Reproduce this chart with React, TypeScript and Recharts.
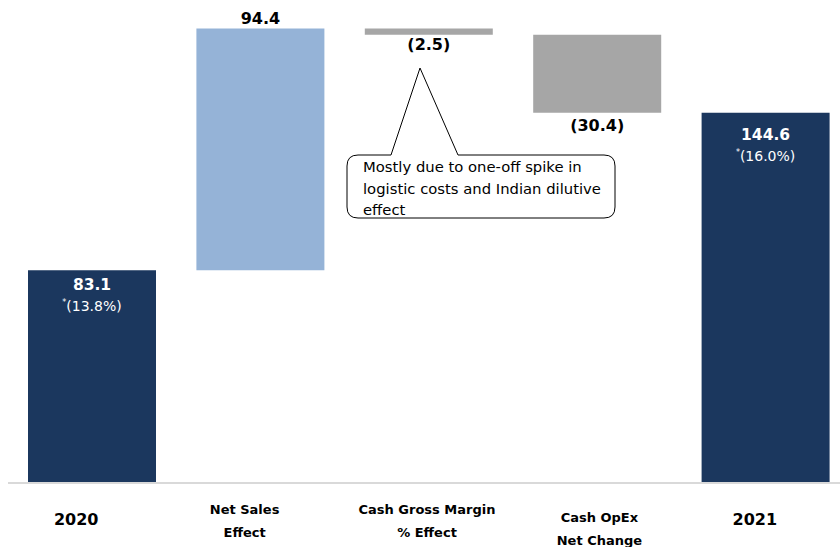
import { Bar, BarChart, Cell, Customized, LabelList, XAxis, YAxis } from "recharts";

const CATEGORIES = ["2020", "Net Sales Effect", "Cash Gross Margin % Effect", "Cash OpEx Net Change", "2021"];
const TICK_LINES = [["2020"], ["Net Sales", "Effect"], ["Cash Gross Margin", "% Effect"], ["Cash OpEx", "Net Change"], ["2021"]];
const VALUES = [83.1, 94.4, -2.5, -30.4, 144.6];
const KINDS = ["total", "delta", "delta", "delta", "total"];
const VALUE_LABELS = ["83.1", "94.4", "(2.5)", "(30.4)", "144.6"];
const MARGIN_LABELS = ["13.8%", "", "", "", "16.0%"];
const NOTE_LINES = ["Mostly due to one-off spike in", "logistic costs and Indian dilutive", "effect"];

const NAVY = "#1b375e";
const LIGHT_BLUE = "#95b3d7";
const GRAY = "#a6a6a6";
const FONT = "DejaVu Sans, sans-serif";
const PLOT_BOTTOM = 475;
// the slide's category labels are not quite centred under the bars
const TICK_SHIFT = [-16, -16, -2, 2, -11];

// waterfall: invisible base + visible step
let running = 0;
const data = CATEGORIES.map((name, i) => {
  const v = VALUES[i];
  let base = 0;
  let size = v;
  if (KINDS[i] === "total") {
    running = v;
  } else if (v >= 0) {
    base = running;
    running += v;
  } else {
    running += v;
    base = running;
    size = -v;
  }
  return { name, base, size };
});

const fillFor = (i: number) => {
  if (KINDS[i] === "total") return NAVY;
  return VALUES[i] >= 0 ? LIGHT_BLUE : GRAY;
};

function Tick(props: any) {
  const { payload } = props;
  const i = CATEGORIES.indexOf(payload.value);
  const x = Number(props.x) + (TICK_SHIFT[i] || 0);
  const lines = TICK_LINES[i] || [payload.value];
  if (lines.length === 1) {
    return (
      <text x={x} y={PLOT_BOTTOM + 42} textAnchor="middle" fontFamily={FONT} fontWeight="bold" fontSize={16} fill="#000">
        {lines[0]}
      </text>
    );
  }
  const top = i === 3 ? PLOT_BOTTOM + 39 : PLOT_BOTTOM + 31;
  return (
    <text textAnchor="middle" fontFamily={FONT} fontWeight="bold" fontSize={13} fill="#000">
      {lines.map((l, k) => (
        <tspan key={k} x={x} y={top + k * 23}>
          {l}
        </tspan>
      ))}
    </text>
  );
}

function ValueLabel(props: any) {
  const x = Number(props.x);
  const y = Number(props.y);
  const w = Number(props.width);
  const h = Number(props.height);
  const i = props.index;
  const cx = x + w / 2;
  if (KINDS[i] === "total") {
    const off = i === 0 ? 20 : 27;
    return (
      <g fontFamily={FONT} fill="#fff" textAnchor="middle">
        <text x={cx} y={y + off} fontWeight="bold" fontSize={15.5} fill="#fff">
          {VALUE_LABELS[i]}
        </text>
        <text x={cx} y={y + off + 21} fontSize={14} fill="#fff">
          <tspan fontSize={8} dy={-6}>*</tspan>
          <tspan dy={6}>({MARGIN_LABELS[i]})</tspan>
        </text>
      </g>
    );
  }
  if (VALUES[i] >= 0) {
    return (
      <text x={cx} y={y - 4} textAnchor="middle" fontFamily={FONT} fontWeight="bold" fontSize={16} fill="#000">
        {VALUE_LABELS[i]}
      </text>
    );
  }
  return (
    <text x={cx} y={y + h + (i === 2 ? 15 : 18)} textAnchor="middle" fontFamily={FONT} fontWeight="bold" fontSize={16} fill="#000">
      {VALUE_LABELS[i]}
    </text>
  );
}

function Callout() {
  const left = 339;
  const right = 607;
  const top = 147;
  const bottom = 210;
  const r = 11;
  const d = [
    `M 383 ${top}`,
    `L 412 60`,
    `L 450 ${top}`,
    `L ${right - r} ${top}`,
    `Q ${right} ${top} ${right} ${top + r}`,
    `L ${right} ${bottom - r}`,
    `Q ${right} ${bottom} ${right - r} ${bottom}`,
    `L ${left + r} ${bottom}`,
    `Q ${left} ${bottom} ${left} ${bottom - r}`,
    `L ${left} ${top + r}`,
    `Q ${left} ${top} ${left + r} ${top}`,
    `Z`,
  ].join(" ");
  return (
    <g>
      <path d={d} fill="#fff" stroke="#000" strokeWidth={1} />
      {NOTE_LINES.map((l, k) => (
        <text key={k} x={355} y={164 + k * 21.5} fontFamily={FONT} fontSize={14.8} fill="#000">
          {l}
        </text>
      ))}
    </g>
  );
}

export default function App() {
  return (
    <div style={{ position: "fixed", left: 0, top: 0, width: 840, height: 547, overflow: "hidden", background: "#fff" }}>
      <div style={{ position: "absolute", left: 8, top: 8 }}>
        <BarChart width={842} height={539} data={data} margin={{ top: 14, right: 0, bottom: 0, left: 0 }}>
          <XAxis
            dataKey="name"
            interval={0}
            tickLine={false}
            axisLine={{ stroke: "#d9d9d9", strokeWidth: 2 }}
            height={64}
            tick={<Tick />}
          />
          <YAxis hide domain={[0, 180]} />
          <Bar dataKey="base" stackId="w" fill="transparent" barSize={128} isAnimationActive={false} />
          <Bar dataKey="size" stackId="w" barSize={128} isAnimationActive={false}>
            {data.map((_, i) => (
              <Cell key={i} fill={fillFor(i)} />
            ))}
            <LabelList dataKey="size" content={<ValueLabel />} />
          </Bar>
          <Customized component={<Callout />} />
        </BarChart>
      </div>
    </div>
  );
}
